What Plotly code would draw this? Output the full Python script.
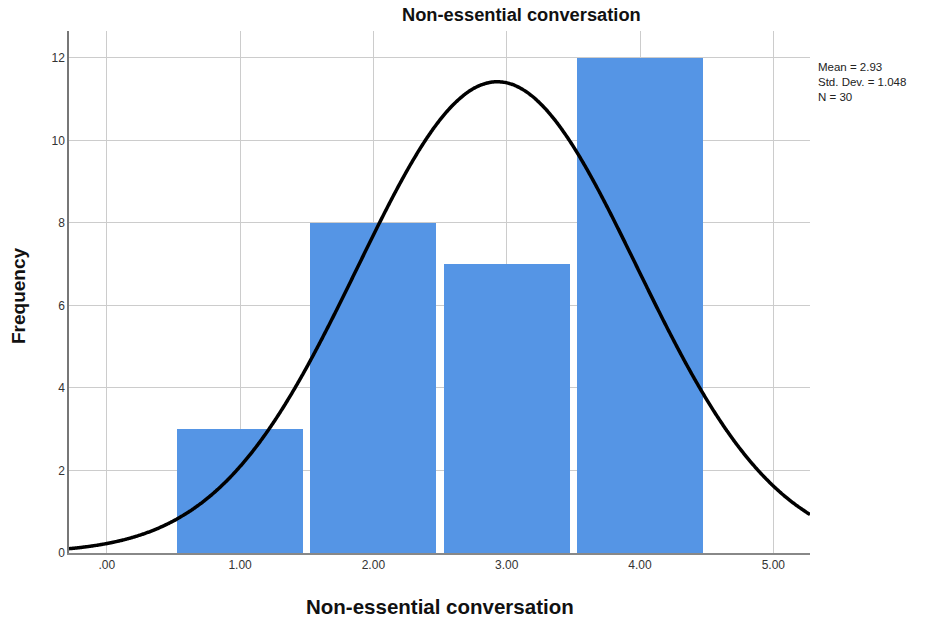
import numpy as np
import plotly.graph_objects as go

# Data
categories = [1, 2, 3, 4]
frequencies = [3, 8, 7, 12]
mean_val = 2.93
std_val = 1.048
n_val = 30
x_tickvals = [0, 1, 2, 3, 4, 5]
x_ticktext = [".00", "1.00", "2.00", "3.00", "4.00", "5.00"]
y_tickvals = [0, 2, 4, 6, 8, 10, 12]

x_range = [-0.283, 5.275]
y_range = [0, 12.65]

# Fitted normal curve (from displayed mean / SD / N, bin width 1)
xc = np.linspace(x_range[0], x_range[1], 600)
yc = n_val * 1.0 / (std_val * np.sqrt(2 * np.pi)) * np.exp(-0.5 * ((xc - mean_val) / std_val) ** 2)

fig = go.Figure()
fig.add_trace(go.Bar(x=categories, y=frequencies, width=0.945,
                     marker=dict(color="#5595e5", line=dict(width=0)),
                     hoverinfo="skip"))
fig.add_trace(go.Scatter(x=xc, y=yc, mode="lines",
                         line=dict(color="black", width=3.5, shape="spline", simplify=False),
                         hoverinfo="skip"))

font_fam = "Liberation Sans, Arial, sans-serif"
L, R, T, B = 69, 810, 31, 553
fig.update_layout(
    width=929, height=621,
    margin=dict(l=L, r=929 - R, t=T, b=621 - B),
    paper_bgcolor="white", plot_bgcolor="white",
    showlegend=False,
    font=dict(family=font_fam, color="#222"),
    xaxis=dict(range=x_range, tickvals=x_tickvals, ticktext=x_ticktext,
               showgrid=True, gridcolor="#cccccc", gridwidth=1.3,
               showline=True, linecolor="#888888", linewidth=1.5, automargin=False,
               zeroline=False, ticks="", tickfont=dict(size=12, color="#333")),
    yaxis=dict(range=y_range, tickvals=y_tickvals,
               showgrid=True, gridcolor="#cccccc", gridwidth=1.3,
               showline=True, linecolor="#777777", linewidth=1.5, automargin=False,
               zeroline=False, ticks="", tickfont=dict(size=12, color="#333")),
    bargap=0,
)

def px_x(p):
    return (p - L) / (R - L)

def px_y(p):
    return (B - p) / (B - T)

fig.add_annotation(text="<b>Non-essential conversation</b>", xref="paper", yref="paper",
                   x=px_x(521), y=px_y(15), yanchor="middle", xanchor="center",
                   showarrow=False, font=dict(size=18.3, color="#111"))
fig.add_annotation(text="<b>Non-essential conversation</b>", xref="paper", yref="paper",
                   x=px_x(440), y=px_y(606), yanchor="middle", xanchor="center",
                   showarrow=False, font=dict(size=20.5, color="#111"))
fig.add_annotation(text="<b>Frequency</b>", xref="paper", yref="paper",
                   x=px_x(18), y=px_y(296), yanchor="middle", xanchor="center", textangle=-90,
                   showarrow=False, font=dict(size=19, color="#111"))
fig.add_annotation(text="Mean = 2.93<br>Std. Dev. = 1.048<br>N = 30", xref="paper", yref="paper",
                   x=1, xshift=6, y=px_y(59), xanchor="left", yanchor="top", align="left",
                   showarrow=False, font=dict(size=11.5, color="#222"))

fig.write_html("out.html")
